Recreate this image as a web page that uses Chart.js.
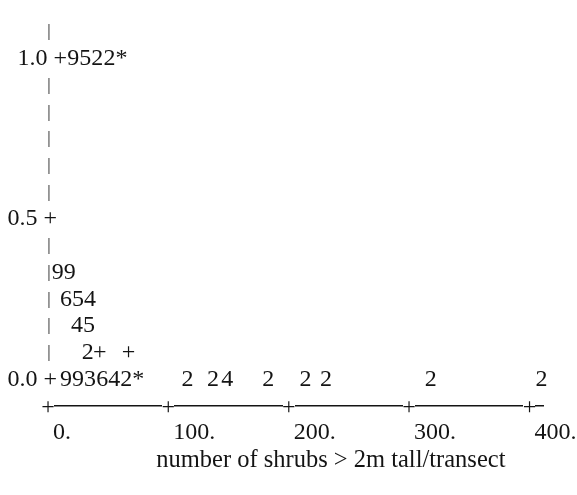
<!DOCTYPE html>
<html>
<head>
<meta charset="utf-8">
<script src="https://cdn.jsdelivr.net/npm/chart.js@4/dist/chart.umd.min.js"></script>
<style>
  html, body { margin: 0; padding: 0; background: #fff; }
  #wrap { width: 577px; height: 495px; }
</style>
</head>
<body>
<div id="wrap"><canvas id="plot" width="577" height="495"></canvas></div>
<script>
// Plotted observations: shrub count per transect, proportion, and the printed symbol
const shrubCounts = [21, 31, 41, 51, 61,
                     8, 18,
                     15, 25, 35,
                     24, 34,
                     33, 43, 67,
                     15, 25, 35, 45, 55, 65, 75, 116, 137, 149, 183, 214, 231, 318, 410];
const proportions = [1, 1, 1, 1, 1,
                     0.3333, 0.3333,
                     0.25, 0.25, 0.25,
                     0.1667, 0.1667,
                     0.0833, 0.0833, 0.0833,
                     0, 0, 0, 0, 0, 0, 0, 0, 0, 0, 0, 0, 0, 0, 0];
const plotSymbols = ['9', '5', '2', '2', '*',
                     '9', '9',
                     '6', '5', '4',
                     '4', '5',
                     '2', '+', '+',
                     '9', '9', '3', '6', '4', '2', '*', '2', '2', '4', '2', '2', '2', '2', '2'];

// Printer rows on the vertical axis
const yRowValues = [-0.0833, 0, 0.0833, 0.1667, 0.25, 0.3333, 0.4167, 0.5,
                    0.5833, 0.6667, 0.75, 0.8333, 0.9167, 1, 1.0833];
const yRowLabels = ['', '0.0 +', '|', '|', '|', '|', '|', '0.5 +',
                    '|', '|', '|', '|', '|', '1.0 +', '|'];

// Horizontal axis ticks
const xTickValues = [0, 100, 200, 300, 400];
const xTickLabels = ['0.', '100.', '200.', '300.', '400.'];
const xAxisTitle = 'number of shrubs > 2m tall/transect';

const FONT_FAMILY = '"Liberation Serif", "Times New Roman", serif';
const INK = '#141414';

// Draws each observation as its printer symbol at the point's position
const symbolPlugin = {
  id: 'printerSymbols',
  afterDatasetsDraw(chart) {
    const ctx = chart.ctx;
    const meta = chart.getDatasetMeta(0);
    ctx.save();
    ctx.fillStyle = INK;
    ctx.font = '24px ' + FONT_FAMILY;
    ctx.textAlign = 'center';
    ctx.textBaseline = 'middle';
    meta.data.forEach((el, i) => {
      ctx.fillText(plotSymbols[i], el.x, el.y);
    });
    ctx.restore();
  }
};

// Printer-style vertical axis: a bar on every row, '+' with the value on labelled rows
const rowLabelPlugin = {
  id: 'rowLabels',
  afterDraw(chart) {
    const ctx = chart.ctx;
    const ys = chart.scales.y;
    const left = chart.chartArea.left;
    ctx.save();
    ctx.fillStyle = INK;
    ctx.textBaseline = 'middle';
    yRowValues.forEach((v, i) => {
      const label = yRowLabels[i];
      if (!label) return;
      const py = ys.getPixelForValue(v);
      if (label === '|') {
        ctx.font = '17px ' + FONT_FAMILY;
        ctx.textAlign = 'center';
        ctx.fillText(label, left + 1, py);
      } else {
        // the top label sits a little further right, flush against its row of symbols
        const nudge = v === 1 ? 10 : 0;
        ctx.font = '24px ' + FONT_FAMILY;
        ctx.textAlign = 'right';
        ctx.fillText(label, left + 9 + nudge, py);
      }
    });
    ctx.restore();
  }
};

// '+' tick crosses on the dashed horizontal axis and the axis caption
const axisDecorPlugin = {
  id: 'axisDecor',
  afterDraw(chart) {
    const ctx = chart.ctx;
    const xs = chart.scales.x;
    const yPix = chart.scales.y.getPixelForValue(yRowValues[0]);
    ctx.save();
    ctx.fillStyle = INK;
    ctx.font = '24px ' + FONT_FAMILY;
    ctx.textAlign = 'center';
    ctx.textBaseline = 'middle';
    xTickValues.forEach(v => {
      const px = xs.getPixelForValue(v);
      ctx.clearRect(px - 6, yPix - 3, 12, 6);
      ctx.fillText('+', px, yPix + 2);
    });
    ctx.font = '24.5px ' + FONT_FAMILY;
    ctx.fillText(xAxisTitle, xs.getPixelForValue(235), yPix + 54);
    ctx.restore();
  }
};

const whiteBackground = {
  id: 'whiteBackground',
  beforeDraw(chart) {
    const ctx = chart.ctx;
    ctx.save();
    ctx.fillStyle = '#ffffff';
    ctx.fillRect(0, 0, chart.width, chart.height);
    ctx.restore();
  }
};

new Chart(document.getElementById('plot'), {
  type: 'scatter',
  data: {
    datasets: [{
      data: shrubCounts.map((x, i) => ({ x: x, y: proportions[i] })),
      pointRadius: 0,
      pointHoverRadius: 0
    }]
  },
  options: {
    responsive: false,
    devicePixelRatio: 1,
    animation: false,
    clip: false,
    layout: { padding: { left: 48, right: 20, top: 32, bottom: 35 } },
    plugins: {
      legend: { display: false },
      tooltip: { enabled: false },
      title: { display: false }
    },
    scales: {
      x: {
        type: 'linear',
        min: 0,
        max: 412,
        afterBuildTicks: (scale) => { scale.ticks = xTickValues.map(v => ({ value: v })); },
        grid: { display: true, drawOnChartArea: false, drawTicks: false },
        border: { display: true, color: INK, width: 1.5, dash: [5, 3] },
        ticks: {
          color: INK,
          font: { family: FONT_FAMILY, size: 24, lineHeight: 1.83 },
          padding: 5,
          labelOffset: 5,
          align: 'start',
          maxRotation: 0,
          autoSkip: false,
          callback: (value, index) => xTickLabels[index]
        },
        title: { display: false }
      },
      y: {
        type: 'linear',
        min: yRowValues[0],
        max: yRowValues[yRowValues.length - 1],
        afterBuildTicks: (scale) => { scale.ticks = yRowValues.map(v => ({ value: v })); },
        grid: { display: false, drawTicks: false },
        border: { display: false },
        ticks: { display: false }
      }
    }
  },
  plugins: [whiteBackground, symbolPlugin, rowLabelPlugin, axisDecorPlugin]
});
</script>
</body>
</html>
